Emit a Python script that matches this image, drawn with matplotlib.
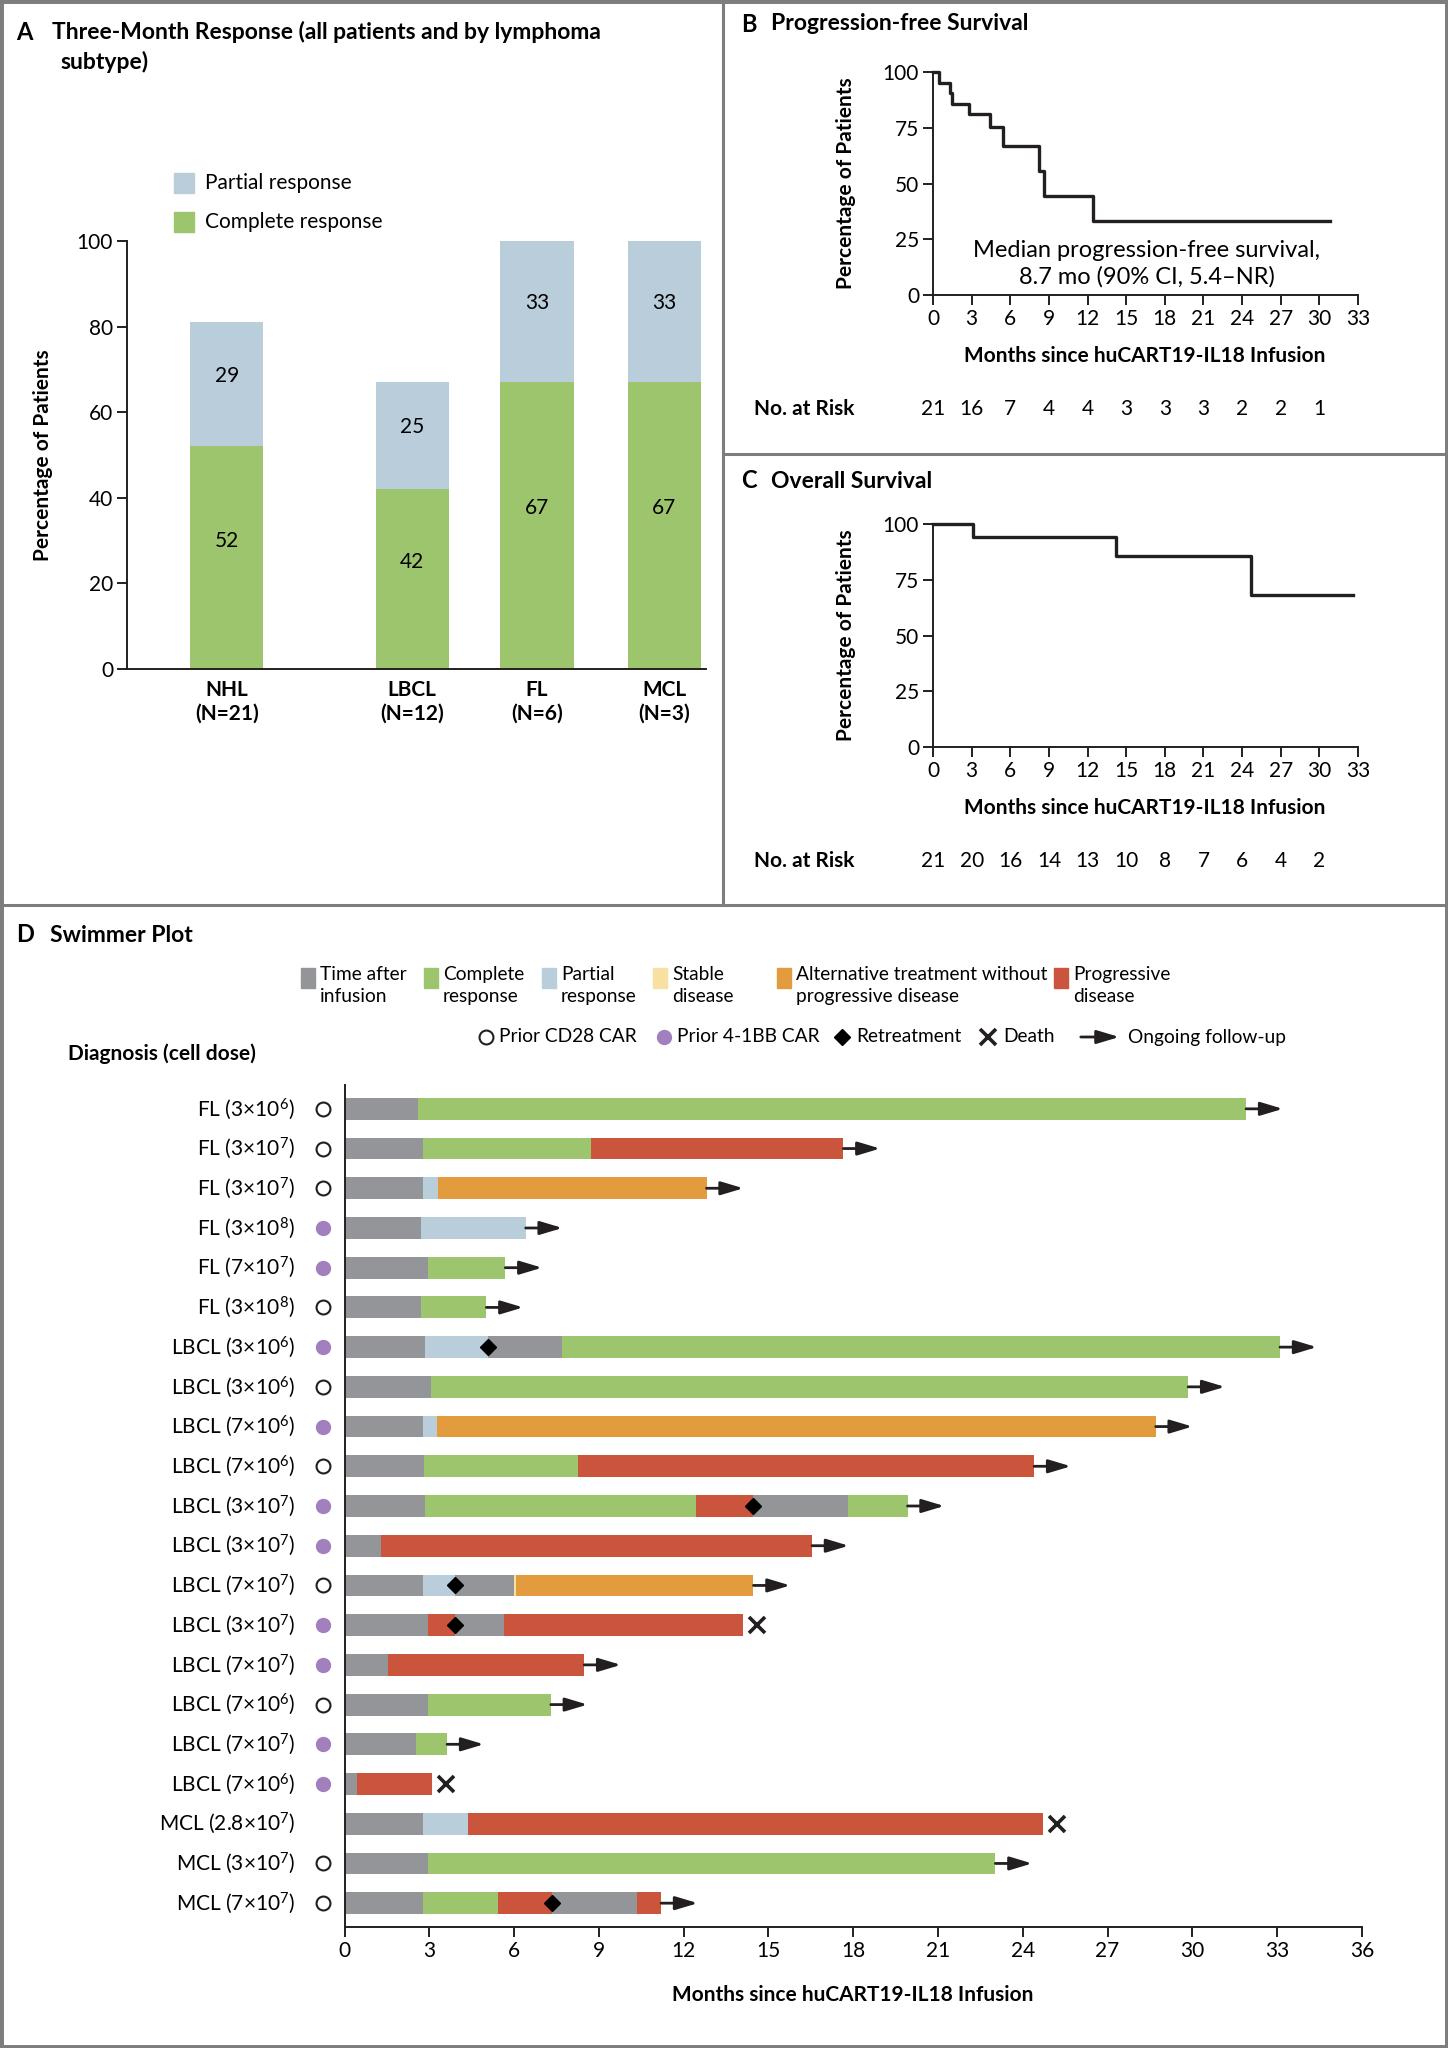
import matplotlib
matplotlib.use('Agg')
import matplotlib.pyplot as plt
import matplotlib.patches as mpatches
import matplotlib.transforms as mtransforms
from matplotlib.lines import Line2D

plt.rcParams['font.family'] = ['Lato', 'DejaVu Sans']
plt.rcParams['mathtext.fontset'] = 'custom'
plt.rcParams['mathtext.rm'] = 'Lato'
plt.rcParams['mathtext.it'] = 'Lato:italic'
plt.rcParams['mathtext.bf'] = 'Lato:bold'

# ---- panel A data ----
subtypes = ['NHL\n(N=21)', 'LBCL\n(N=12)', 'FL\n(N=6)', 'MCL\n(N=3)']
bar_pos = [0, 1.47, 2.46, 3.47]
complete_resp = [52, 42, 67, 67]
partial_resp = [29, 25, 33, 33]

# ---- panels B / C data ----
pfs_months = [0, 0.45, 1.3, 1.45, 2.8, 4.4, 5.4, 8.25, 8.6, 12.4, 30.8]
pfs_pct = [100, 95.2, 90.5, 85.7, 81.0, 75.5, 66.7, 55.5, 44.4, 33.3, 33.3]
os_months = [0, 3.1, 14.2, 24.7, 32.6]
os_pct = [100, 94.3, 85.5, 68.3, 68.3]
risk_months = [0, 3, 6, 9, 12, 15, 18, 21, 24, 27, 30]
pfs_at_risk = [21, 16, 7, 4, 4, 3, 3, 3, 2, 2, 1]
os_at_risk = [21, 20, 16, 14, 13, 10, 8, 7, 6, 4, 2]

# ---- panel D data (swimmer) ----
row_labels = [
    r'FL (3×10$^{\mathregular{6}}$)', r'FL (3×10$^{\mathregular{7}}$)', r'FL (3×10$^{\mathregular{7}}$)',
    r'FL (3×10$^{\mathregular{8}}$)', r'FL (7×10$^{\mathregular{7}}$)', r'FL (3×10$^{\mathregular{8}}$)',
    r'LBCL (3×10$^{\mathregular{6}}$)', r'LBCL (3×10$^{\mathregular{6}}$)', r'LBCL (7×10$^{\mathregular{6}}$)',
    r'LBCL (7×10$^{\mathregular{6}}$)', r'LBCL (3×10$^{\mathregular{7}}$)', r'LBCL (3×10$^{\mathregular{7}}$)',
    r'LBCL (7×10$^{\mathregular{7}}$)', r'LBCL (3×10$^{\mathregular{7}}$)', r'LBCL (7×10$^{\mathregular{7}}$)',
    r'LBCL (7×10$^{\mathregular{6}}$)', r'LBCL (7×10$^{\mathregular{7}}$)', r'LBCL (7×10$^{\mathregular{6}}$)',
    r'MCL (2.8×10$^{\mathregular{7}}$)', r'MCL (3×10$^{\mathregular{7}}$)', r'MCL (7×10$^{\mathregular{7}}$)',
]
prior_car = ['cd28', 'cd28', 'cd28', '41bb', '41bb', 'cd28', '41bb', 'cd28', '41bb', 'cd28', '41bb',
             '41bb', 'cd28', '41bb', '41bb', 'cd28', '41bb', '41bb', None, 'cd28', 'cd28']
# (state, end month) for each row
segments = [
    [('time', 2.6), ('cr', 31.9)],
    [('time', 2.76), ('cr', 8.72), ('pd', 17.65)],
    [('time', 2.76), ('pr', 3.32), ('alt', 12.81)],
    [('time', 2.69), ('pr', 6.41)],
    [('time', 2.97), ('cr', 5.69)],
    [('time', 2.72), ('cr', 5.02)],
    [('time', 2.84), ('pr', 5.06), ('time', 7.71), ('cr', 33.1)],
    [('time', 3.05), ('cr', 29.85)],
    [('time', 2.78), ('pr', 3.27), ('alt', 28.7)],
    [('time', 2.81), ('cr', 8.26), ('pd', 24.4)],
    [('time', 2.84), ('cr', 12.43), ('pd', 14.45), ('time', 17.82), ('cr', 19.92)],
    [('time', 1.3), ('pd', 16.54)],
    [('time', 2.76), ('pr', 3.9), ('time', 5.99), ('sd', 6.08), ('alt', 14.47)],
    [('time', 2.95), ('pd', 3.9), ('time', 5.64), ('pd', 14.1)],
    [('time', 1.53), ('pd', 8.48)],
    [('time', 2.97), ('cr', 7.3)],
    [('time', 2.53), ('cr', 3.63)],
    [('time', 0.44), ('pd', 3.08)],
    [('time', 2.76), ('pr', 4.38), ('pd', 24.7)],
    [('time', 2.97), ('cr', 23.03)],
    [('time', 2.76), ('cr', 5.42), ('pd', 7.35), ('time', 10.35), ('pd', 11.2)],
]
retreat_rows = [6, 10, 12, 13, 20]
retreat_months = [5.06, 14.45, 3.9, 3.9, 7.35]
end_event = ['arrow'] * 13 + ['death', 'arrow', 'arrow', 'arrow', 'death', 'death', 'arrow', 'arrow']

state_colors = {'time': '#939598', 'cr': '#9dc56e', 'pr': '#b9cddb', 'sd': '#f8dfa2',
                'alt': '#e39c3d', 'pd': '#cb553c'}
PURPLE = '#a27fbd'
INK = '#231f20'
FRAME = '#7d7d7d'

W, H = 1448, 2048
fig = plt.figure(figsize=(W / 100, H / 100), dpi=100)


def fx(x):
    return x / W


def fy(y):
    return 1 - y / H


def box(l, t, r, b):
    return [fx(l), fy(b), (r - l) / W, (b - t) / H]


def style_axes(ax):
    for s in ['top', 'right']:
        ax.spines[s].set_visible(False)
    for s in ['left', 'bottom']:
        ax.spines[s].set_linewidth(1.4)
        ax.spines[s].set_color(INK)
    ax.tick_params(direction='out', length=7, width=1.4, color=INK, labelsize=15, pad=3)


FS = 15
LEG_FS = 13.8

# frame + separators
fig.add_artist(mpatches.Rectangle((0, 0), 1, 1, transform=fig.transFigure, fill=False, lw=5, ec=FRAME))
fig.add_artist(Line2D([fx(723), fx(723)], [fy(0), fy(905)], transform=fig.transFigure, lw=2.2, color=FRAME))
fig.add_artist(Line2D([fx(723), 1], [fy(454), fy(454)], transform=fig.transFigure, lw=2.2, color=FRAME))
fig.add_artist(Line2D([0, 1], [fy(905), fy(905)], transform=fig.transFigure, lw=2.2, color=FRAME))

# ================= Panel A =================
fig.text(fx(16), fy(32), 'A', fontsize=17, weight='bold', va='center')
fig.text(fx(52), fy(32), 'Three-Month Response (all patients and by lymphoma', fontsize=16.5, weight='bold',
         va='center')
fig.text(fx(60), fy(62), 'subtype)', fontsize=16.5, weight='bold', va='center')
for yc, col, lab in [(183, state_colors['pr'], 'Partial response'), (222, state_colors['cr'], 'Complete response')]:
    fig.add_artist(mpatches.Rectangle((fx(174), fy(yc + 10)), 20 / W, 20 / H, transform=fig.transFigure, color=col))
    fig.text(fx(205), fy(yc), lab, fontsize=FS, va='center')

axA = fig.add_axes(box(127, 241, 706, 669))
axA.bar(bar_pos, complete_resp, width=0.58, color=state_colors['cr'])
axA.bar(bar_pos, partial_resp, bottom=complete_resp, width=0.58, color=state_colors['pr'])
for x, c, p in zip(bar_pos, complete_resp, partial_resp):
    axA.text(x, c / 2 + 4, str(c), ha='center', va='center', fontsize=FS)
    axA.text(x, c + p / 2 + 2, str(p), ha='center', va='center', fontsize=FS)
axA.set_xlim(-0.79, 3.8)
axA.set_ylim(0, 100)
axA.set_yticks(range(0, 101, 20))
axA.set_xticks(bar_pos)
axA.set_xticklabels(subtypes, fontweight='bold', linespacing=1.25)
style_axes(axA)
axA.tick_params(axis='x', length=0, pad=8)
fig.text(fx(43), fy(455), 'Percentage of Patients', rotation=90, fontsize=FS, weight='bold', ha='center', va='center')


# ================= Panels B and C =================
def km_panel(letter, title, top, months, pct, risk, label_top):
    ax = fig.add_axes(box(933, top, 1358, top + 223))
    ax.step(months, pct, where='post', color=INK, lw=2.4, clip_on=False)
    ax.set_xlim(0, 33)
    ax.set_ylim(0, 100)
    ax.set_xticks(range(0, 34, 3))
    ax.set_yticks([0, 25, 50, 75, 100])
    style_axes(ax)
    fig.text(fx(741), fy(label_top), letter, fontsize=17, weight='bold', va='center')
    fig.text(fx(771), fy(label_top), title, fontsize=16.5, weight='bold', va='center')
    fig.text(fx(846), fy(top + 111), 'Percentage of Patients', rotation=90, fontsize=FS, weight='bold',
             ha='center', va='center')
    fig.text(fx(1145), fy(top + 284), 'Months since huCART19-IL18 Infusion', fontsize=FS, weight='bold',
             ha='center', va='center')
    fig.text(fx(754), fy(top + 337), 'No. at Risk', fontsize=FS, weight='bold', va='center')
    trans = mtransforms.blended_transform_factory(ax.transData, fig.transFigure)
    for t, n in zip(risk_months, risk):
        ax.text(t, fy(top + 337), str(n), transform=trans, ha='center', va='center', fontsize=FS)
    return ax


axB = km_panel('B', 'Progression-free Survival', 72, pfs_months, pfs_pct, pfs_at_risk, 24)
axB.text(16.6, 14, 'Median progression-free survival,\n8.7 mo (90% CI, 5.4\u2013NR)', ha='center', va='center',
         fontsize=17, linespacing=1.25)
axC = km_panel('C', 'Overall Survival', 524, os_months, os_pct, os_at_risk, 481)

# ================= Panel D =================
fig.text(fx(16), fy(935), 'D', fontsize=17, weight='bold', va='center')
fig.text(fx(50), fy(935), 'Swimmer Plot', fontsize=16.5, weight='bold', va='center')

legend_items = [(308, 'time', 'Time after\ninfusion'), (431, 'cr', 'Complete\nresponse'),
                (549, 'pr', 'Partial\nresponse'), (660, 'sd', 'Stable\ndisease'),
                (784, 'alt', 'Alternative treatment without\nprogressive disease'),
                (1061, 'pd', 'Progressive\ndisease')]
for x0, key, lab in legend_items:
    fig.add_artist(mpatches.Rectangle((fx(x0 - 7), fy(988)), 14 / W, 20 / H, transform=fig.transFigure,
                                      color=state_colors[key]))
    fig.text(fx(x0 + 12), fy(966), lab, fontsize=LEG_FS, va='top', linespacing=1.35)

ym = fy(1037)
fig.add_artist(Line2D([fx(486)], [ym], transform=fig.transFigure, marker='o', ms=10, mfc='white',
                      mec=INK, mew=1.5))
fig.text(fx(499), ym, 'Prior CD28 CAR', fontsize=LEG_FS, va='center')
fig.add_artist(Line2D([fx(664)], [ym], transform=fig.transFigure, marker='o', ms=10, mfc=PURPLE, mec=PURPLE))
fig.text(fx(677), ym, 'Prior 4-1BB CAR', fontsize=LEG_FS, va='center')
fig.add_artist(Line2D([fx(842)], [ym], transform=fig.transFigure, marker='D', ms=8, mfc='black', mec='black'))
fig.text(fx(856), ym, 'Retreatment', fontsize=LEG_FS, va='center')
fig.add_artist(Line2D([fx(988)], [ym], transform=fig.transFigure, marker='x', ms=12, mec=INK, mew=2.6))
fig.text(fx(1003), ym, 'Death', fontsize=LEG_FS, va='center')
fig.add_artist(mpatches.FancyArrowPatch((fx(1078), ym), (fx(1122), ym), transform=fig.transFigure,
                                        arrowstyle='-|>,head_length=0.9,head_width=0.27', mutation_scale=15,
                                        lw=2, color=INK))
fig.text(fx(1128), ym, 'Ongoing follow-up', fontsize=LEG_FS, va='center')
fig.text(fx(68), fy(1054), 'Diagnosis (cell dose)', fontsize=FS, weight='bold', va='center')

axD = fig.add_axes(box(344.5, 1085, 1362, 1927))
for i, segs in enumerate(segments):
    start = 0
    for state, end in segs:
        axD.barh(i, end - start, left=start, height=0.55, color=state_colors[state], linewidth=0)
        start = end
    if end_event[i] == 'arrow':
        axD.annotate('', xy=(start + 1.3, i), xytext=(start, i),
                     arrowprops=dict(arrowstyle='-|>,head_length=0.9,head_width=0.27', mutation_scale=15,
                                     lw=2, color=INK, shrinkA=0, shrinkB=0))
    else:
        axD.plot(start + 0.5, i, marker='x', ms=12, mec=INK, mew=2.6, clip_on=False)
    axD.text(-1.75, i, row_labels[i], ha='right', va='center', fontsize=FS)
    if prior_car[i] == 'cd28':
        axD.plot(-0.76, i, marker='o', ms=10, mfc='white', mec=INK, mew=1.5, clip_on=False)
    elif prior_car[i] == '41bb':
        axD.plot(-0.76, i, marker='o', ms=10, mfc=PURPLE, mec=PURPLE, clip_on=False)
axD.plot(retreat_months, retreat_rows, linestyle='none', marker='D', ms=8, color='black', zorder=5)
axD.set_xlim(0, 36)
axD.set_ylim(20.6, -0.6)
axD.set_xticks(range(0, 37, 3))
axD.set_yticks([])
style_axes(axD)
fig.text(fx(853), fy(1995), 'Months since huCART19-IL18 Infusion', fontsize=FS, weight='bold',
         ha='center', va='center')

fig.savefig('out.png', dpi=100)
